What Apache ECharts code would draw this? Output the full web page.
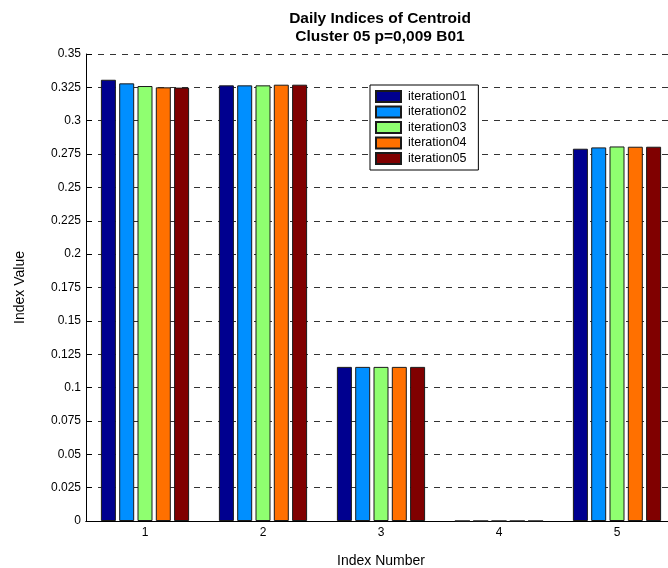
<!DOCTYPE html>
<html>
<head>
<meta charset="utf-8">
<script src="https://cdn.jsdelivr.net/npm/echarts@6/dist/echarts.min.js"></script>
<style>
  html, body { margin: 0; padding: 0; background: #fff; }
  #chart { width: 668px; height: 568px; }
</style>
</head>
<body>
<div id="chart"></div>
<script>
// Index numbers on the x axis
var categories = ['1', '2', '3', '4', '5'];

// Centroid index values per iteration
var iteration01 = [0.3307, 0.3265, 0.1155, 0, 0.2790];
var iteration02 = [0.3280, 0.3265, 0.1155, 0, 0.2800];
var iteration03 = [0.3260, 0.3265, 0.1155, 0, 0.2807];
var iteration04 = [0.3250, 0.3270, 0.1155, 0, 0.2805];
var iteration05 = [0.3248, 0.3270, 0.1155, 0, 0.2805];

var seriesNames = ['iteration01', 'iteration02', 'iteration03', 'iteration04', 'iteration05'];
var seriesData = [iteration01, iteration02, iteration03, iteration04, iteration05];
var seriesColors = ['#00008F', '#008FFF', '#8FFF70', '#FF7000', '#800000'];

var FONT = 'Liberation Sans, Arial, sans-serif';

var chart = echarts.init(document.getElementById('chart'), null, { renderer: 'canvas' });

var series = seriesNames.map(function (name, i) {
  return {
    name: name,
    type: 'bar',
    data: seriesData[i],
    barWidth: 15,
    barGap: '22%',
    itemStyle: { color: seriesColors[i], borderColor: '#1a1a1a', borderWidth: 1 },
    silent: true,
    animation: false
  };
});

chart.setOption({
  animation: false,
  title: {
    text: 'Daily Indices of Centroid\nCluster 05 p=0,009 B01',
    left: 375,
    top: 5,
    textAlign: 'center',
    textStyle: { fontFamily: FONT, fontSize: 15.5, fontWeight: 'bold', color: '#000', lineHeight: 18 }
  },
  legend: {
    orient: 'vertical',
    left: 370,
    top: 85,
    padding: [5, 12, 5, 5],
    itemWidth: 25,
    itemHeight: 11,
    itemGap: 2.5,
    backgroundColor: '#fff',
    borderColor: '#000',
    borderWidth: 1,
    borderRadius: 0,
    icon: 'rect',
    textStyle: { fontFamily: FONT, fontSize: 12.5, color: '#000', padding: [0, 0, 0, 2] },
    data: seriesNames
  },
  grid: { left: 86, top: 54, width: 590, height: 467, outerBoundsMode: 'none', containLabel: false },
  xAxis: [{
    type: 'category',
    data: categories,
    position: 'bottom',
    name: 'Index Number',
    nameLocation: 'middle',
    nameGap: 33,
    nameTextStyle: { fontFamily: FONT, fontSize: 14, color: '#000' },
    axisLine: { lineStyle: { color: '#000', width: 1 } },
    axisTick: { inside: true, alignWithLabel: true, length: 6, lineStyle: { color: '#000' } },
    axisLabel: { fontFamily: FONT, fontSize: 12, color: '#000', margin: 6 }
  }, {
    type: 'category',
    data: categories,
    position: 'top',
    axisLine: { lineStyle: { color: '#000', width: 1 } },
    axisTick: { inside: true, alignWithLabel: true, length: 6, lineStyle: { color: '#000' } },
    axisLabel: { show: false }
  }],
  yAxis: [{
    type: 'value',
    min: 0,
    max: 0.35,
    interval: 0.025,
    position: 'left',
    name: 'Index Value',
    nameLocation: 'middle',
    nameGap: 59,
    nameRotate: 90,
    nameTextStyle: { fontFamily: FONT, fontSize: 14, color: '#000' },
    axisLine: { show: true, lineStyle: { color: '#000', width: 1 } },
    axisTick: { show: true, inside: true, length: 6, lineStyle: { color: '#000' } },
    axisLabel: { fontFamily: FONT, fontSize: 12, color: '#000', margin: 5 },
    splitLine: { show: true, lineStyle: { color: '#333', width: 1, type: [6, 6] } }
  }, {
    type: 'value',
    min: 0,
    max: 0.35,
    interval: 0.025,
    position: 'right',
    axisLine: { show: true, lineStyle: { color: '#000', width: 1 } },
    axisTick: { show: true, inside: true, length: 6, lineStyle: { color: '#000' } },
    axisLabel: { show: false },
    splitLine: { show: false }
  }],
  series: series
});
</script>
</body>
</html>
